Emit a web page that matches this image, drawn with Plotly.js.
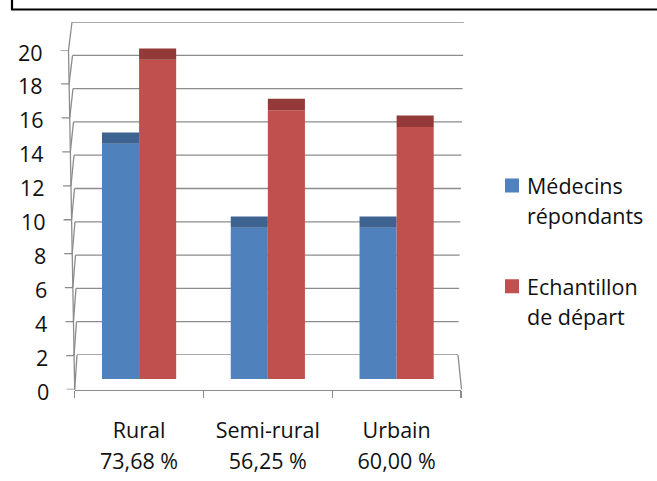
<!DOCTYPE html>
<html><head><meta charset="utf-8">
<script src="https://cdn.plot.ly/plotly-3.0.1.min.js"></script>
<style>html,body{margin:0;padding:0;background:#fff}</style></head>
<body><div id="chart" style="width:657px;height:481px"></div>
<script>
const categories = ["Rural<br>73,68 %", "Semi-rural<br>56,25 %", "Urbain<br>60,00 %"];
const medecins = [14, 9, 9];
const echantillon = [19, 16, 15];
const yTicks = [0, 2, 4, 6, 8, 10, 12, 14, 16, 18, 20];
const seriesNames = ["Médecins<br>répondants", "Echantillon<br>de départ"];

const W = 657, H = 481;
const px = v => v / W, py = v => 1 - v / H;
const GREY = '#8c8c8c', FS = 21.5, FONT = '"Open Sans", sans-serif', INK = '#111';
const wrapText = s => s.split('<br>').map(t => `<span style="font-size:${FS}px">${t}</span>`).join('<br>');

const frontX = v => 74.7 - 6.2 * v / 20;
const backX = v => 77 - 5 * v / 20;
const seg = (x0, y0, x1, y1, xr, yr, w, c) => ({type:'line', layer:'below', xref:xr, yref:yr, x0, y0, x1, y1, line:{color:c||GREY, width:w||1.3}});

const shapes = [];
yTicks.forEach(v => {
  shapes.push(seg(px(backX(v)), v, px(458 + 5.7 * v / 20), v, 'paper', 'y3'));
  shapes.push({type:'line', layer:'below', xref:'paper', yref:'y', x0:px(frontX(v) - 8), x1:px(frontX(v)), y0:v, y1:v, line:{color:GREY, width:1.3}});
});
yTicks.forEach(v => {
  const wallY = py(355 - 16.65 * v), fy = py(389.5 - 16.97 * v);
  shapes.push(seg(px(frontX(v)), fy, px(backX(v)), wallY, 'paper', 'paper'));
});
shapes.push(seg(px(frontX(0)), py(389.5), px(frontX(20)), py(50), 'paper', 'paper'));
shapes.push(seg(px(461.5), py(389.5), px(458), py(355), 'paper', 'paper'));
shapes.push(seg(px(12), py(0), px(12), py(9.5), 'paper', 'paper', 2.2, '#000'));
shapes.push(seg(px(11), py(9.5), px(657), py(9.5), 'paper', 'paper', 2.2, '#000'));

const annotations = yTicks.map(v => ({
  xref:'paper', yref:'y', x:px(frontX(v) - 24), y:v, yshift:-2, xanchor:'right', yanchor:'middle',
  text:String(v), showarrow:false, font:{family:FONT, size:FS, color:INK}
}));

const BW = 0.288, TOP = 0.68;
const data = [
  {type:'bar', name:wrapText(seriesNames[0]), legendgroup:'a', x:categories, y:medecins, yaxis:'y2', width:BW, offset:-BW,
   marker:{color:'#4F81BD', line:{width:0}}},
  {type:'bar', showlegend:false, legendgroup:'a', x:categories, y:medecins.map(()=>TOP), base:medecins, yaxis:'y2', width:BW, offset:-BW,
   marker:{color:'#3E6391', line:{width:0}}, hoverinfo:'skip'},
  {type:'bar', name:wrapText(seriesNames[1]), legendgroup:'b', x:categories, y:echantillon, yaxis:'y2', width:BW, offset:0,
   marker:{color:'#C0504D', line:{width:0}}},
  {type:'bar', showlegend:false, legendgroup:'b', x:categories, y:echantillon.map(()=>TOP), base:echantillon, yaxis:'y2', width:BW, offset:0,
   marker:{color:'#933A38', line:{width:0}}, hoverinfo:'skip'}
];

const layout = {
  width:W, height:H, margin:{l:0,r:0,t:0,b:0,pad:0}, paper_bgcolor:'#fff', plot_bgcolor:'rgba(0,0,0,0)',
  barmode:'overlay', font:{family:FONT, color:INK, size:FS},
  xaxis:{type:'category', domain:[px(74.7), px(461)], range:[-0.5,2.5], anchor:'y', tickson:'boundaries',
    ticks:'outside', ticklen:7, tickcolor:GREY, tickwidth:1.3, ticklabelstandoff:18, showline:true, linecolor:GREY, linewidth:1.3,
    tickfont:{size:24, color:INK}, tickvals:categories, ticktext:categories.map(wrapText), showgrid:false, zeroline:false, tickangle:0, automargin:false},
  yaxis:{domain:[py(389.5), py(50)], range:[0,20], tickvals:yTicks, showticklabels:false, ticks:'', showgrid:false, zeroline:false, showline:false, automargin:false},
  yaxis2:{domain:[py(379), py(379 - 336)], range:[0,20], visible:false, anchor:'x'},
  yaxis3:{domain:[py(355), py(22)], range:[0,20], visible:false, anchor:'x'},
  showlegend:true,
  legend:{x:px(492), xanchor:'left', y:py(164), yanchor:'top', bgcolor:'rgba(0,0,0,0)', borderwidth:0, tracegroupgap:38, indentation:-5,
    font:{family:FONT, size:23, color:INK}, itemclick:false, itemdoubleclick:false},
  shapes, annotations
};
Plotly.newPlot('chart', data, layout, {displayModeBar:false, staticPlot:true}).then(gd => {
  gd.querySelectorAll('.legend .legendsymbols').forEach(g => {
    g.setAttribute('transform', 'translate(5,-15)');
    g.querySelectorAll('path').forEach(p => {
      p.style.stroke = p.style.fill;
      p.style.strokeWidth = '2px';
    });
  });
});
</script></body></html>
